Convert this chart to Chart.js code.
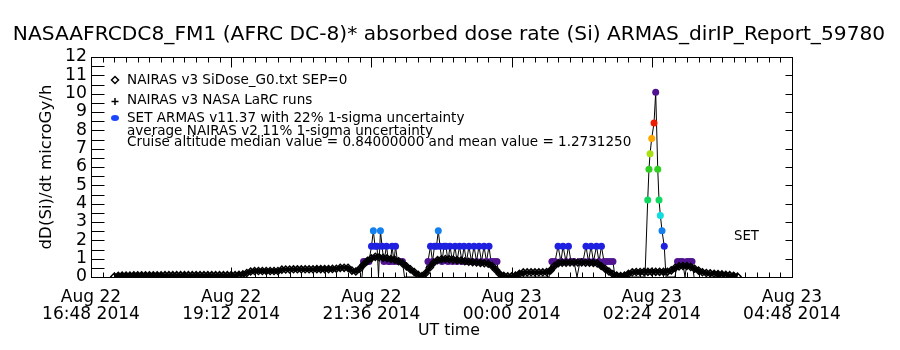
<!DOCTYPE html>
<html>
<head>
<meta charset="utf-8">
<script src="https://cdn.jsdelivr.net/npm/chart.js@4.4.1/dist/chart.umd.min.js"></script>
<style>
  html, body { margin: 0; padding: 0; background: #fff; }
  #wrap { width: 900px; height: 350px; }
</style>
</head>
<body>
<div id="wrap"><canvas id="chart" width="900" height="350"></canvas></div>
<script>
// ---- data ----
const titleText = "NASAAFRCDC8_FM1 (AFRC DC-8)* absorbed dose rate (Si) ARMAS_dirIP_Report_59780";
const yTitle = "dD(Si)/dt microGy/h";
const xTitle = "UT time";
const legendLines = [
  "NAIRAS v3 SiDose_G0.txt SEP=0",
  "NAIRAS v3 NASA LaRC runs",
  "SET ARMAS v11.37 with 22% 1-sigma uncertainty",
  "average NAIRAS v2 11% 1-sigma uncertainty",
  "Cruise altitude median value = 0.84000000 and mean value = 1.2731250"
];
const setLabel = "SET";

// x axis in minutes after Aug 22 16:48 UT
const xTickDates = ["Aug 22", "Aug 22", "Aug 22", "Aug 23", "Aug 23", "Aug 23"];
const xTickTimes = ["16:48 2014", "19:12 2014", "21:36 2014", "00:00 2014", "02:24 2014", "04:48 2014"];
const xMax = 720, xStep = 144;
const yMax = 12;

// NAIRAS v3 model, one value every 4 minutes starting at minute 24
const nairasStart = 24, nairasStep = 4;
const nairasV = [
  0.03, 0.07, 0.08, 0.08, 0.08, 0.09, 0.09, 0.09, 0.09, 0.09,   // 24-60
  0.09, 0.09, 0.09, 0.10, 0.10, 0.10, 0.10, 0.10, 0.10, 0.10,   // 64-100
  0.10, 0.10, 0.10, 0.10, 0.10, 0.10, 0.10, 0.10, 0.10, 0.10,   // 104-140
  0.10, 0.10, 0.12, 0.14, 0.22, 0.30, 0.33, 0.33, 0.33, 0.33,   // 144-180
  0.33, 0.33, 0.33, 0.40, 0.41, 0.41, 0.42, 0.42, 0.42, 0.42,   // 184-220
  0.42, 0.42, 0.43, 0.43, 0.43, 0.43, 0.44, 0.45, 0.50, 0.50,   // 224-260
  0.50, 0.35, 0.30, 0.45, 0.68, 0.88, 1.02, 1.10, 1.08, 1.05,   // 264-300
  1.02, 0.98, 0.94, 0.86, 0.74, 0.58, 0.42, 0.27, 0.12, 0.05,   // 304-340
  0.22, 0.52, 0.78, 0.92, 0.97, 0.98, 0.97, 0.95, 0.92, 0.90,   // 344-380
  0.86, 0.83, 0.81, 0.79, 0.77, 0.75, 0.72, 0.60, 0.38, 0.15,   // 384-420
  0.06, 0.04, 0.04, 0.08, 0.18, 0.25, 0.25, 0.26, 0.26, 0.26,   // 424-460
  0.26, 0.27, 0.36, 0.60, 0.75, 0.78, 0.78, 0.79, 0.79, 0.79,   // 464-500
  0.79, 0.78, 0.78, 0.77, 0.74, 0.60, 0.45, 0.30, 0.16, 0.08,   // 504-540
  0.05, 0.08, 0.18, 0.26, 0.27, 0.27, 0.28, 0.28, 0.28, 0.28,   // 544-580
  0.28, 0.28, 0.28, 0.36, 0.50, 0.58, 0.60, 0.60, 0.55, 0.45,   // 584-620
  0.35, 0.26, 0.22, 0.20, 0.18, 0.16, 0.14, 0.12, 0.10, 0.07,   // 624-660
  0.03                                                          // 664
];

// SET ARMAS measurements (minutes, microGy/h)
const armasT = [
  278.3, 279.9, 282.5, 285.5, 288.1, 290.0, 291.7, 293.8, 295.3, 297.3, 298.9,
  300.9, 303.5, 305.6, 307.6, 309.2, 311.2, 312.8, 314.8, 317.4, 319.9, 322.0,
  342.0, 346.1, 348.7, 350.8, 352.8, 354.9, 356.7, 358.5, 360.5, 362.6, 364.6,
  366.7, 368.7, 371.3, 373.9, 375.9, 378.5, 381.1, 383.1, 385.7, 388.2, 390.8,
  393.4, 396.0, 398.5, 401.1, 403.7, 406.2, 408.8, 410.8, 413.9, 417.0, 419.1,
  470.4, 473.4, 476.6, 479.7, 482.7, 484.8, 487.9, 490.4, 493.0, 496.1, 499.2,
  502.3, 505.3, 508.4, 511.0, 513.6, 516.1, 519.2, 521.8, 524.3, 526.9, 530.0,
  533.1, 536.1, 538.2,
  569.0, 571.8, 573.1, 574.2, 575.9, 578.3, 580.0, 582.1, 583.4, 584.8, 586.5,
  588.8, 590.6,
  599.8, 602.4, 605.0, 607.6, 610.1, 612.2, 614.8, 617.3, 619.4
];
const armasV = [
  0, 0.84, 0.84, 0.84, 1.68, 2.52, 1.68, 1.68, 0, 2.52, 1.68,
  0.84, 1.68, 0.84, 0.84, 1.68, 0.84, 1.68, 0.84, 0.84, 0.84, 0,
  0, 0.84, 1.68, 0.84, 1.68, 1.68, 2.52, 1.68, 0.84, 1.68, 1.68,
  0.84, 1.68, 0.84, 1.68, 0.84, 1.68, 0.84, 1.68, 0.84, 1.68, 0.84,
  1.68, 0.84, 1.68, 0.84, 1.68, 0.84, 1.68, 0.84, 0.84, 0.84, 0,
  0, 0.84, 0.84, 1.68, 0.84, 1.68, 0.84, 1.68, 0.84, 0.84, 0,
  0.84, 0.84, 1.68, 0.84, 1.68, 0.84, 1.68, 0.84, 1.68, 0.84, 0.84,
  0.84, 0.84, 0,
  0, 4.20, 5.88, 6.72, 7.56, 8.40, 10.08, 5.88, 4.20, 3.36, 2.52,
  1.68, 0,
  0, 0.84, 0.84, 0.84, 0, 0.84, 0.84, 0.84, 0
];

// ---- style ----
const FONT = "DejaVu Sans";
const levelColors = {
  0.84: "#501490", 1.68: "#2020e0", 2.52: "#1480f0", 3.36: "#10dede",
  4.20: "#10d860", 5.04: "#20d830", 5.88: "#30d020", 6.72: "#a8e010",
  7.56: "#ffa800", 8.40: "#ec1c00", 9.24: "#c80000", 10.08: "#501490"
};
function colorFor(v) {
  return levelColors[v.toFixed(2) * 1] || "#000";
}
const measureCtx = document.createElement("canvas").getContext("2d");
function fitSize(text, width, base) {
  measureCtx.font = base + "px '" + FONT + "'";
  return base * width / measureCtx.measureText(text).width;
}
const yTickSize = fitSize("12", 22, 18);
const xTickSize = fitSize(xTickTimes[1], 98, 16);

const nairasData = nairasV.map((v, i) => ({ x: nairasStart + i * nairasStep, y: v }));
const armasData = armasT.map((t, i) => ({ x: t, y: armasV[i] }));

const framePlugin = {
  id: "frame",
  afterDatasetsDraw(chart) {
    const { ctx, chartArea: a, scales: { x, y } } = chart;
    ctx.save();
    ctx.strokeStyle = "#000";
    ctx.lineWidth = 1;
    const L = Math.round(a.left) + 0.5, R = Math.round(a.right) + 0.5;
    const T = Math.round(a.top) + 0.5, B = Math.round(a.bottom) + 0.5;
    ctx.strokeRect(L, T, R - L, B - T);
    ctx.beginPath();
    for (let v = 0; v <= yMax; v += 0.5) {
      const py = Math.round(y.getPixelForValue(v)) + 0.5;
      ctx.moveTo(L, py); ctx.lineTo(L + 13, py);
      if (v % 1 === 0) { ctx.moveTo(R, py); ctx.lineTo(R - 7, py); }
    }
    for (let t = 0; t <= xMax; t += 12) {
      const px = Math.round(x.getPixelForValue(t)) + 0.5;
      const len = t % xStep === 0 ? 10 : 5;
      ctx.moveTo(px, T); ctx.lineTo(px, T + len);
      ctx.moveTo(px, B); ctx.lineTo(px, B - len);
    }
    ctx.stroke();

    ctx.fillStyle = "#000";
    ctx.textAlign = "center";
    ctx.textBaseline = "middle";
    ctx.font = fitSize(titleText, 873, 18) + "px '" + FONT + "'";
    ctx.fillText(titleText, 449, 35);
    ctx.font = fitSize(xTitle, 62, 16) + "px '" + FONT + "'";
    ctx.fillText(xTitle, 449, 331);
    ctx.save();
    ctx.translate(47, 167);
    ctx.rotate(-Math.PI / 2);
    ctx.font = fitSize(yTitle, 165, 16) + "px '" + FONT + "'";
    ctx.fillText(yTitle, 0, 0);
    ctx.restore();

    ctx.font = fitSize(setLabel, 25, 15) + "px '" + FONT + "'";
    ctx.textAlign = "left";
    ctx.fillText(setLabel, 734, 237);

    // legend
    const lx = 127, ly = [80, 100, 118, 131, 142];
    ctx.font = fitSize(legendLines[4], 505, 13) + "px '" + FONT + "'";
    legendLines.forEach((s, i) => ctx.fillText(s, lx, ly[i]));
    ctx.beginPath();
    ctx.moveTo(115, ly[0] - 3.5); ctx.lineTo(118.5, ly[0]); ctx.lineTo(115, ly[0] + 3.5); ctx.lineTo(111.5, ly[0]); ctx.closePath();
    ctx.lineWidth = 1.5;
    ctx.stroke();
    ctx.beginPath();
    ctx.moveTo(111.5, ly[1] + 1.5); ctx.lineTo(118.5, ly[1] + 1.5);
    ctx.moveTo(115, ly[1] - 2); ctx.lineTo(115, ly[1] + 5);
    ctx.stroke();
    ctx.fillStyle = "#1a46ff";
    ctx.beginPath();
    ctx.ellipse(115, ly[2], 4, 3, 0, 0, Math.PI * 2);
    ctx.fill();
    ctx.restore();
  }
};

new Chart(document.getElementById("chart"), {
  type: "line",
  data: {
    datasets: [
      {
        label: "SET ARMAS",
        data: armasData,
        borderColor: "#000",
        borderWidth: 1,
        pointRadius: c => (c.raw && c.raw.y > 0 ? 3.5 : 0),
        pointBackgroundColor: c => (c.raw ? colorFor(c.raw.y) : "#000"),
        pointBorderWidth: 0,
        order: 2
      },
      {
        label: "NAIRAS v3",
        data: nairasData,
        borderColor: "#000",
        borderWidth: 4,
        pointStyle: "rectRot",
        pointRadius: 3.5,
        pointBorderWidth: 1.5,
        pointBorderColor: "#000",
        pointBackgroundColor: "rgba(0,0,0,0)",
        order: 1
      }
    ]
  },
  options: {
    responsive: false,
    animation: false,
    layout: { padding: { top: 57, right: 108, left: 0, bottom: 0 } },
    plugins: { legend: { display: false }, tooltip: { enabled: false } },
    scales: {
      x: {
        type: "linear",
        min: 0,
        max: xMax,
        afterFit(s) { s.height = 73; },
        grid: { display: false, drawTicks: false },
        border: { display: false },
        ticks: {
          stepSize: xStep,
          autoSkip: false,
          maxRotation: 0,
          padding: 12,
          color: "#000",
          font: { family: FONT, size: xTickSize, lineHeight: 1.0 },
          callback: v => {
            const i = Math.round(v / xStep);
            return [xTickDates[i], xTickTimes[i]];
          }
        }
      },
      y: {
        min: 0,
        max: yMax,
        afterFit(s) { s.width = 91; },
        grid: { display: false, drawTicks: false },
        border: { display: false },
        ticks: {
          stepSize: 1,
          autoSkip: false,
          padding: 4,
          color: "#000",
          font: { family: FONT, size: yTickSize, lineHeight: 1.0 }
        }
      }
    }
  },
  plugins: [framePlugin]
});
</script>
</body>
</html>
